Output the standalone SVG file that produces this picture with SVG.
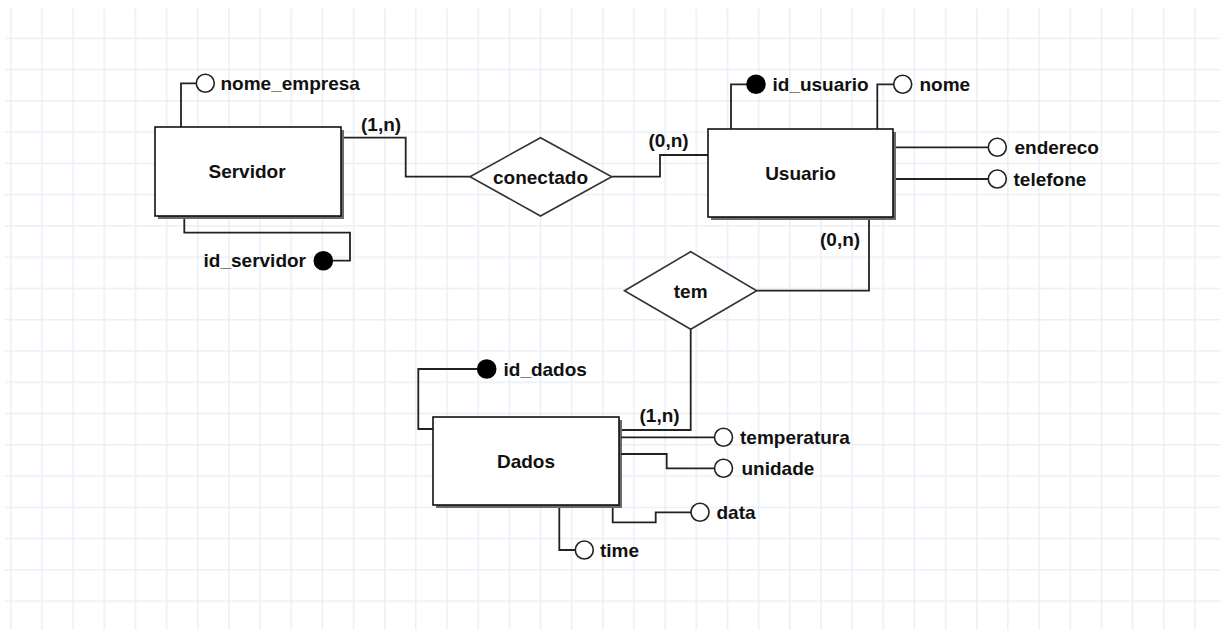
<svg xmlns="http://www.w3.org/2000/svg" width="1220" height="630" viewBox="0 0 1220 630">
<defs>
<pattern id="grid" patternUnits="userSpaceOnUse" x="10" y="37.5" width="31.16" height="31.27">
<line x1="0.75" y1="0" x2="0.75" y2="31.27" stroke="#eaeff6" stroke-width="1.5"/>
<line x1="0" y1="0.75" x2="31.16" y2="0.75" stroke="#eaeff6" stroke-width="1.5"/>
</pattern>
<style>
.ent{fill:#fff;stroke:#111;stroke-width:1.6}
.shd{fill:#6a6a6a}
.rel{fill:#fff;stroke:#333;stroke-width:1.6}
.ln{fill:none;stroke:#222;stroke-width:1.8}
.att{fill:#fff;stroke:#222;stroke-width:1.6}
.key{fill:#000;stroke:#000;stroke-width:1.6}
text{font-family:"Liberation Sans",Arial,sans-serif;font-weight:bold;font-size:19px;fill:#111}
.c{text-anchor:middle}
.r{text-anchor:end}
</style>
</defs>
<rect width="1220" height="630" fill="#fff"/>
<rect x="5" y="8" width="1215" height="622" fill="url(#grid)"/>

<g id="connectors">
<polyline class="ln" points="343,137.7 405.7,137.7 405.7,176.7 470,176.7"/>
<polyline class="ln" points="611.7,176.7 660,176.7 660,155 708,155"/>
<polyline class="ln" points="869,219 869,290.7 756.7,290.7"/>
<polyline class="ln" points="690.7,329.3 690.7,430 621,430"/>
</g>

<g id="card-labels">
<text x="361" y="130.5">(1,n)</text>
<text x="648.5" y="146.5">(0,n)</text>
<text x="820" y="246">(0,n)</text>
<text x="639.5" y="422">(1,n)</text>
</g>

<g id="servidor">
<rect class="shd" x="158" y="130" width="186" height="89"/>
<rect class="ent" x="155" y="127" width="186" height="89"/>
<text class="c" x="247" y="178">Servidor</text>
</g>
<g id="attr-nome_empresa">
<polyline class="ln" points="181,127 181,83.3 196,83.3"/>
<circle class="att" cx="205.3" cy="83.3" r="9"/>
<text x="220.5" y="89.5">nome_empresa</text>
</g>
<g id="attr-id_servidor">
<polyline class="ln" points="184.3,219 184.3,232.7 350,232.7 350,260.7 332.5,260.7"/>
<circle class="key" cx="323.3" cy="260.7" r="9"/>
<text class="r" x="306" y="267">id_servidor</text>
</g>

<g id="conectado">
<polygon class="rel" points="470,176.7 540.5,137.7 611.7,176.7 540.5,216"/>
<text class="c" x="540.5" y="183.5">conectado</text>
</g>

<g id="usuario">
<rect class="shd" x="711" y="132" width="185" height="88"/>
<rect class="ent" x="708" y="129" width="185" height="88"/>
<text class="c" x="800.5" y="179.5">Usuario</text>
</g>
<g id="attr-id_usuario">
<polyline class="ln" points="731,129 731,84.3 747,84.3"/>
<circle class="key" cx="756" cy="84.3" r="9"/>
<text x="772.5" y="90.5">id_usuario</text>
</g>
<g id="attr-nome">
<polyline class="ln" points="877.3,129 877.3,84.3 893.5,84.3"/>
<circle class="att" cx="902.7" cy="84.3" r="9"/>
<text x="919.5" y="90.5">nome</text>
</g>
<g id="attr-endereco">
<line class="ln" x1="896" y1="147.3" x2="988" y2="147.3"/>
<circle class="att" cx="997.3" cy="147.3" r="9"/>
<text x="1014.5" y="153.5">endereco</text>
</g>
<g id="attr-telefone">
<line class="ln" x1="896" y1="179" x2="988" y2="179"/>
<circle class="att" cx="997.3" cy="179" r="9"/>
<text x="1013.5" y="185.5">telefone</text>
</g>

<g id="tem">
<polygon class="rel" points="624.5,290.7 690.7,251.7 756.7,290.7 690.7,329.3"/>
<text class="c" x="690.7" y="297.5">tem</text>
</g>

<g id="dados">
<rect class="shd" x="436" y="420" width="186" height="88"/>
<rect class="ent" x="433" y="417" width="186" height="88"/>
<text class="c" x="526" y="467.5">Dados</text>
</g>
<g id="attr-id_dados">
<polyline class="ln" points="433,429 418.3,429 418.3,369 477.5,369"/>
<circle class="key" cx="486.7" cy="369" r="9"/>
<text x="503.5" y="375.5">id_dados</text>
</g>
<g id="attr-temperatura">
<line class="ln" x1="621" y1="437.3" x2="714.5" y2="437.3"/>
<circle class="att" cx="723.5" cy="437.3" r="9"/>
<text x="740" y="443.5">temperatura</text>
</g>
<g id="attr-unidade">
<polyline class="ln" points="621,454 666.7,454 666.7,468.3 714.5,468.3"/>
<circle class="att" cx="723.5" cy="468.3" r="9"/>
<text x="741.5" y="474.5">unidade</text>
</g>
<g id="attr-data">
<polyline class="ln" points="612.7,508 612.7,522.3 655.7,522.3 655.7,512.3 691,512.3"/>
<circle class="att" cx="700" cy="512.3" r="9"/>
<text x="716.5" y="518.5">data</text>
</g>
<g id="attr-time">
<polyline class="ln" points="559.3,508 559.3,550 575.3,550"/>
<circle class="att" cx="584.3" cy="550" r="9"/>
<text x="600" y="556.5">time</text>
</g>
</svg>
